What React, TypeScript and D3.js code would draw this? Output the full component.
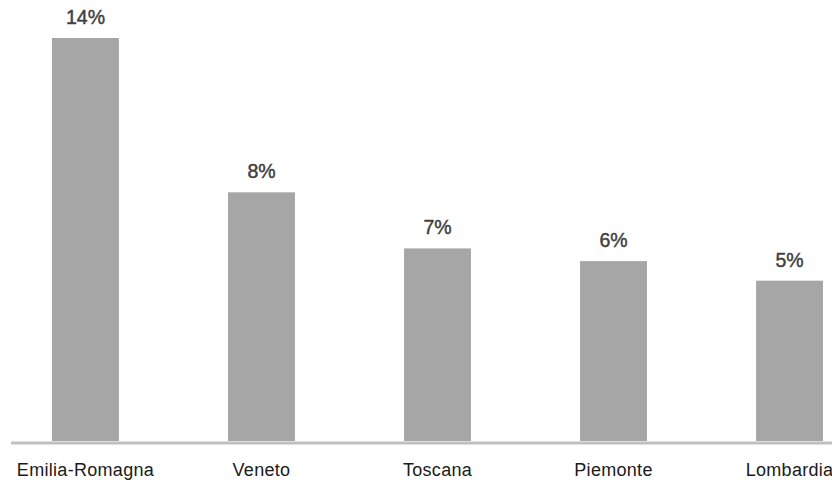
import React from "react";
import * as d3 from "d3";

const categories = ["Emilia-Romagna", "Veneto", "Toscana", "Piemonte", "Lombardia"];
const values = [14, 8.64, 6.69, 6.25, 5.57];
const valueLabels = ["14%", "8%", "7%", "6%", "5%"];

const W = 832;
const H = 484;

export default function App() {
  const x = d3
    .scaleBand<string>()
    .domain(categories)
    .range([11, 864])
    .paddingInner(0.62)
    .paddingOuter(0.233);
  const y = d3.scaleLinear().domain([0, 14]).range([441, 38]);
  const font = "'Liberation Sans', Arial, Helvetica, sans-serif";

  return (
    <svg
      width={W}
      height={H}
      style={{ position: "absolute", left: 0, top: 0, background: "#fff" }}
    >
      {categories.map((c, i) => (
        <rect
          key={c}
          x={x(c)}
          y={y(values[i])}
          width={x.bandwidth()}
          height={y(0) - y(values[i])}
          fill="#a6a6a6"
        />
      ))}
      <line x1={11} x2={W} y1={443} y2={443} stroke="#bfbfbf" strokeWidth={3} />
      {categories.map((c, i) => (
        <text
          key={"v" + c}
          x={(x(c) as number) + x.bandwidth() / 2}
          y={y(values[i]) - 14}
          textAnchor="middle"
          fontFamily={font}
          fontSize={19.5}
          fill="#404040"
          stroke="#404040"
          strokeWidth={0.45}
        >
          {valueLabels[i]}
        </text>
      ))}
      {categories.map((c) => (
        <text
          key={"c" + c}
          x={(x(c) as number) + x.bandwidth() / 2}
          y={476}
          textAnchor="middle"
          fontFamily={font}
          fontSize={18}
          letterSpacing={0.3}
          fill="#1a1a1a"
        >
          {c}
        </text>
      ))}
    </svg>
  );
}
